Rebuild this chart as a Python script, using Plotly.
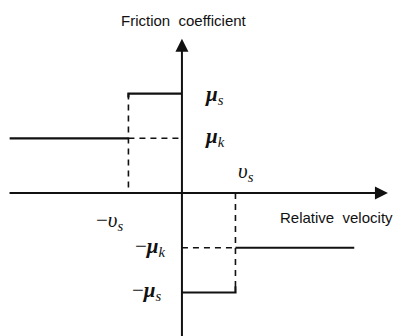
import plotly.graph_objects as go

# Friction model parameters (normalised units)
mu_s = 1.0      # static friction coefficient
mu_k = 0.55     # kinetic friction coefficient
v_s = 1.0       # Stribeck / stick velocity threshold
v_end = 3.22    # extent of the kinetic branches

# Axis extents
x_axis = [-3.25, 3.85]
y_axis = [-1.45, 1.55]

ink = "#111111"
fig = go.Figure()

# Solid friction characteristic (left and right branches)
solid = dict(color=ink, width=2.2)
fig.add_trace(go.Scatter(x=[-v_end, -v_s], y=[mu_k, mu_k], mode="lines",
                         line=solid, hoverinfo="skip"))
fig.add_trace(go.Scatter(x=[-v_s, -v_s, 0], y=[mu_s * 0.96, mu_s, mu_s],
                         mode="lines", line=solid, hoverinfo="skip"))
fig.add_trace(go.Scatter(x=[0, v_s, v_s], y=[-mu_s, -mu_s, -mu_s * 0.94],
                         mode="lines", line=solid, hoverinfo="skip"))
fig.add_trace(go.Scatter(x=[v_s, v_end], y=[-mu_k, -mu_k], mode="lines",
                         line=solid, hoverinfo="skip"))

# Dashed guide lines
dash = dict(color=ink, width=1.6, dash="6px,5px")
fig.add_trace(go.Scatter(x=[-v_s, -v_s], y=[mu_s, 0], mode="lines",
                         line=dash, hoverinfo="skip"))
fig.add_trace(go.Scatter(x=[-v_s, 0], y=[mu_k, mu_k], mode="lines",
                         line=dash, hoverinfo="skip"))
fig.add_trace(go.Scatter(x=[v_s, v_s], y=[0, -mu_s], mode="lines",
                         line=dash, hoverinfo="skip"))
fig.add_trace(go.Scatter(x=[0, v_s], y=[-mu_k, -mu_k], mode="lines",
                         line=dash, hoverinfo="skip"))

annotations = [
    # horizontal axis with arrow
    dict(x=x_axis[1], y=0, ax=x_axis[0], ay=0, xref="x", yref="y",
         axref="x", ayref="y", showarrow=True, arrowhead=2, arrowsize=1.3,
         arrowwidth=2, arrowcolor=ink, text=""),
    # vertical axis with arrow
    dict(x=0, y=y_axis[1], ax=0, ay=-1.6, xref="x", yref="y",
         axref="x", ayref="y", showarrow=True, arrowhead=2, arrowsize=1.3,
         arrowwidth=2, arrowcolor=ink, text=""),
]

label_font = dict(family="Liberation Sans, Arial", size=15, color=ink)
annotations += [
    dict(x=0.04, y=1.73, xref="x", yref="y",
         text="Friction  coefficient", showarrow=False, font=label_font),
    dict(x=2.89, y=-0.25, xref="x", yref="y",
         text="Relative  velocity", showarrow=False, font=label_font),
]

math_font = dict(family="Liberation Serif, DejaVu Serif", size=21, color=ink)
math_labels = [
    ("<b><i>μ</i></b><sub><i>s</i></sub>", 0.60, 0.99),
    ("<b><i>μ</i></b><sub><i>k</i></sub>", 0.62, 0.56),
    ("<i>υ</i><sub><i>s</i></sub>", 1.20, 0.21),
    ("−<i>υ</i><sub><i>s</i></sub>", -1.35, -0.28),
    ("−<b><i>μ</i></b><sub><i>k</i></sub>", -0.58, -0.54),
    ("−<b><i>μ</i></b><sub><i>s</i></sub>", -0.65, -0.98),
]
for text, x, y in math_labels:
    annotations.append(dict(x=x, y=y, xref="x", yref="y", text=text,
                            showarrow=False, font=math_font))

fig.update_layout(
    width=400, height=336,
    margin=dict(l=0, r=0, t=0, b=0),
    paper_bgcolor="white", plot_bgcolor="white",
    showlegend=False,
    xaxis=dict(range=[-3.40, 4.075], visible=False, fixedrange=True),
    yaxis=dict(range=[-1.437, 1.94], visible=False, fixedrange=True),
    annotations=annotations,
)

fig.write_html("out.html")
